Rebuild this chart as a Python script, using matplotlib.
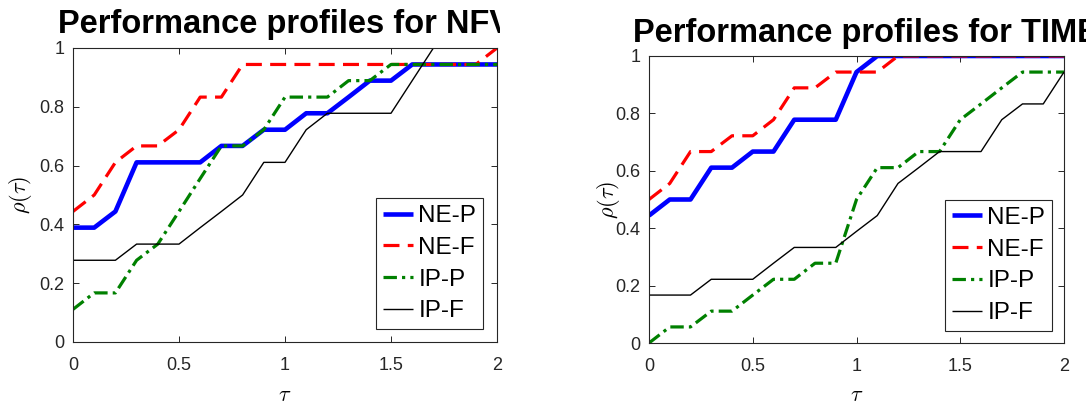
import matplotlib
matplotlib.use('Agg')
import matplotlib.pyplot as plt
from matplotlib.transforms import Bbox, TransformedBbox

plt.rcParams['font.family'] = ['Liberation Sans', 'DejaVu Sans']
plt.rcParams['mathtext.fontset'] = 'cm'

tau = [0.0, 0.1, 0.2, 0.3, 0.4, 0.5, 0.6, 0.7, 0.8, 0.9, 1.0,
       1.1, 1.2, 1.3, 1.4, 1.5, 1.6, 1.7, 1.8, 1.9, 2.0]

labels = ['NE-P', 'NE-F', 'IP-P', 'IP-F']

# NFV profiles
nfv_nep = [0.389, 0.389, 0.444, 0.611, 0.611, 0.611, 0.611, 0.667, 0.667, 0.722, 0.722,
           0.778, 0.778, 0.833, 0.889, 0.889, 0.944, 0.944, 0.944, 0.944, 0.944]
nfv_nef = [0.444, 0.500, 0.611, 0.667, 0.667, 0.722, 0.833, 0.833, 0.944, 0.944, 0.944,
           0.944, 0.944, 0.944, 0.944, 0.944, 0.944, 0.944, 0.944, 0.944, 1.000]
nfv_ipp = [0.111, 0.167, 0.167, 0.278, 0.333, 0.444, 0.556, 0.667, 0.667, 0.722, 0.833,
           0.833, 0.833, 0.889, 0.889, 0.944, 0.944, 0.944, 0.944, 0.944, 0.944]
nfv_ipf = [0.278, 0.278, 0.278, 0.333, 0.333, 0.333, 0.389, 0.444, 0.500, 0.611, 0.611,
           0.722, 0.778, 0.778, 0.778, 0.778, 0.889, 1.000, 1.000, 1.000, 1.000]

# TIME profiles
time_nep = [0.444, 0.500, 0.500, 0.611, 0.611, 0.667, 0.667, 0.778, 0.778, 0.778, 0.944,
            1.000, 1.000, 1.000, 1.000, 1.000, 1.000, 1.000, 1.000, 1.000, 1.000]
time_nef = [0.500, 0.556, 0.667, 0.667, 0.722, 0.722, 0.778, 0.889, 0.889, 0.944, 0.944,
            0.944, 1.000, 1.000, 1.000, 1.000, 1.000, 1.000, 1.000, 1.000, 1.000]
time_ipp = [0.000, 0.056, 0.056, 0.111, 0.111, 0.167, 0.222, 0.222, 0.278, 0.278, 0.500,
            0.611, 0.611, 0.667, 0.667, 0.778, 0.833, 0.889, 0.944, 0.944, 0.944]
time_ipf = [0.167, 0.167, 0.167, 0.222, 0.222, 0.222, 0.278, 0.333, 0.333, 0.333, 0.389,
            0.444, 0.556, 0.611, 0.667, 0.667, 0.667, 0.778, 0.833, 0.833, 0.944]

xticks = [0, 0.5, 1, 1.5, 2]
xticklabels = ['0', '0.5', '1', '1.5', '2']
yticks = [0, 0.2, 0.4, 0.6, 0.8, 1]
yticklabels = ['0', '0.2', '0.4', '0.6', '0.8', '1']

W, H = 1086, 405
fig = plt.figure(figsize=(W / 100, H / 100), dpi=100)

axcol = '#262626'


def profile(rect, series, title, title_xy, title_clip, ylab_x, leg_anchor):
    ax = fig.add_axes(rect)
    styles = [
        dict(color='blue', lw=3.3, ls='-'),
        dict(color='red', lw=2.3, ls=(0, (5, 2.6))),
        dict(color='green', lw=2.3, ls=(0, (4.2, 1.6, 1.0, 1.6))),
        dict(color='black', lw=1.0, ls='-'),
    ]
    for s, lab, st in zip(series, labels, styles):
        ax.plot(tau, s, label=lab, solid_capstyle='butt', dash_capstyle='butt', **st)
    ax.set_xlim(0, 2)
    ax.set_ylim(0, 1)
    ax.set_xticks(xticks)
    ax.set_xticklabels(xticklabels)
    ax.set_yticks(yticks)
    ax.set_yticklabels(yticklabels)
    ax.tick_params(direction='in', length=4, width=0.7, colors=axcol, labelsize=13,
                   top=True, right=True)
    ax.tick_params(axis='x', pad=11)
    ax.tick_params(axis='y', pad=6)
    for sp in ax.spines.values():
        sp.set_color(axcol)
        sp.set_linewidth(0.8)

    # x label placed by its baseline so it stays inside the figure
    x0, x1 = rect[0], rect[0] + rect[2]
    fig.text((x0 + x1) / 2, 1 - 401 / H, r'$\tau$', fontsize=16,
             ha='center', va='baseline')
    ax.set_ylabel(r'$\rho(\tau)$', fontsize=16)
    ax.yaxis.set_label_coords(ylab_x, 0.5)
    ax.yaxis.label.set_va('center')

    leg = ax.legend(loc='lower right', bbox_to_anchor=leg_anchor,
                    borderaxespad=0, fontsize=17.5, handlelength=1.25,
                    handletextpad=0.2, labelspacing=0.4, borderpad=0.28,
                    fancybox=False, framealpha=1, edgecolor=axcol)
    leg.get_frame().set_linewidth(0.8)

    t = fig.text(title_xy[0] / W, 1 - title_xy[1] / H, title, fontsize=23.5,
                 fontweight='bold', ha='left', va='baseline')
    t.set_clip_box(TransformedBbox(Bbox([[0, 0], [title_clip / W, 1]]), fig.transFigure))
    t.set_clip_on(True)
    return ax


profile([73 / W, 1 - 342 / H, 424 / W, 294 / H],
        [nfv_nep, nfv_nef, nfv_ipp, nfv_ipf],
        'Performance profiles for NFV', (58, 33), 500, -0.125, (0.967, 0.044))

profile([649 / W, 1 - 343 / H, 415 / W, 287 / H],
        [time_nep, time_nef, time_ipp, time_ipf],
        'Performance profiles for TIME', (633, 42), W, -0.097, (0.971, 0.042))

fig.savefig('out.png', dpi=100)
